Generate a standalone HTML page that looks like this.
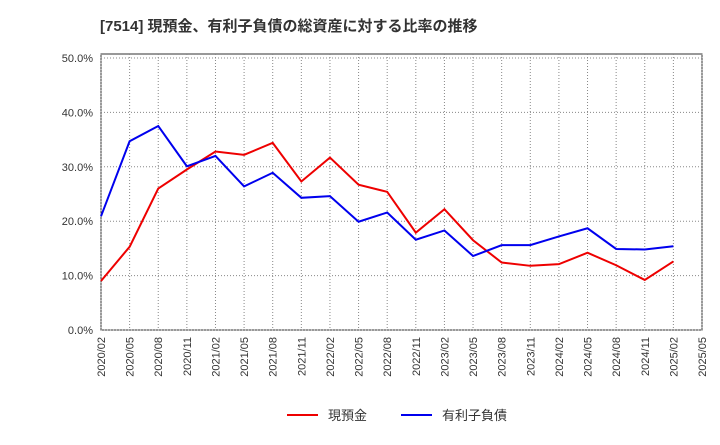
<!DOCTYPE html>
<html><head><meta charset="utf-8">
<style>
body{margin:0;background:#fff;width:720px;height:440px;overflow:hidden}
svg{font-family:"Liberation Sans","Noto Sans CJK JP",sans-serif}
</style></head><body>
<svg id="c" width="720" height="440">
<text x="100" y="31" font-size="15" font-weight="bold" fill="#333">[7514]  現預金、有利子負債の総資産に対する比率の推移</text>
<rect x="101" y="54" width="601" height="276" fill="none" stroke="#333"/>
<g id="grid"></g><g id="axes"></g><g id="series"></g>
<g>
<line x1="287" y1="415" x2="318" y2="415" stroke="#e00" stroke-width="2"/>
<text x="328" y="420" font-size="13" fill="#333">現預金</text>
<line x1="401" y1="415" x2="432" y2="415" stroke="#00e" stroke-width="2"/>
<text x="442" y="420" font-size="13" fill="#333">有利子負債</text>
</g>
</svg>
<script>
const categories=["2020/02","2020/05","2020/08","2020/11","2021/02","2021/05","2021/08","2021/11","2022/02","2022/05","2022/08","2022/11","2023/02","2023/05","2023/08","2023/11","2024/02","2024/05","2024/08","2024/11","2025/02","2025/05"];
const cash=[9.0,15.3,26.0,29.5,32.8,32.2,34.4,27.3,31.7,26.7,25.4,17.9,22.2,16.5,12.4,11.8,12.1,14.2,11.9,9.2,12.6];
const debt=[20.9,34.7,37.5,30.1,32.0,26.4,28.9,24.3,24.6,19.9,21.6,16.6,18.3,13.6,15.6,15.6,17.2,18.7,14.9,14.8,15.4];
const yTicks=[0,10,20,30,40,50];
const NS="http://www.w3.org/2000/svg";
const x0=101,x1=702,y0=330,y50=58;
const xs=i=>x0+i*(x1-x0)/(categories.length-1);
const ys=v=>y0-v*(y0-y50)/50;
const grid=document.getElementById('grid'),axes=document.getElementById('axes'),ser=document.getElementById('series');
function mk(t,a,p){const e=document.createElementNS(NS,t);for(const k in a)e.setAttribute(k,a[k]);p.appendChild(e);return e;}
yTicks.forEach(v=>{
 const l=mk('line',{x1:x0,x2:x1,y1:ys(v),y2:ys(v),stroke:'#888','stroke-dasharray':'1,2'},grid);
 
 
 const t=mk('text',{x:93,y:ys(v)+4,'text-anchor':'end','font-size':11,fill:'#333'},axes);
 t.textContent=v.toFixed(1)+'%';
 
 
});
categories.forEach((c,i)=>{
 const l=mk('line',{x1:xs(i),x2:xs(i),y1:54,y2:y0,stroke:'#888','stroke-dasharray':'1,2'},grid);
 
 
 const t=mk('text',{x:0,y:0,'text-anchor':'end','font-size':11,fill:'#333',transform:`translate(${xs(i)+4},337) rotate(-90)`},axes);
 t.textContent=c;
 
 
});
function line(d,col,name){
 const p=mk('polyline',{points:d.map((v,i)=>xs(i)+','+ys(v)).join(' '),fill:'none',stroke:col,'stroke-width':2},ser);
 
 
}
line(cash,'#e00','cash-line');
line(debt,'#00e','debt-line');
</script>
</body></html>
